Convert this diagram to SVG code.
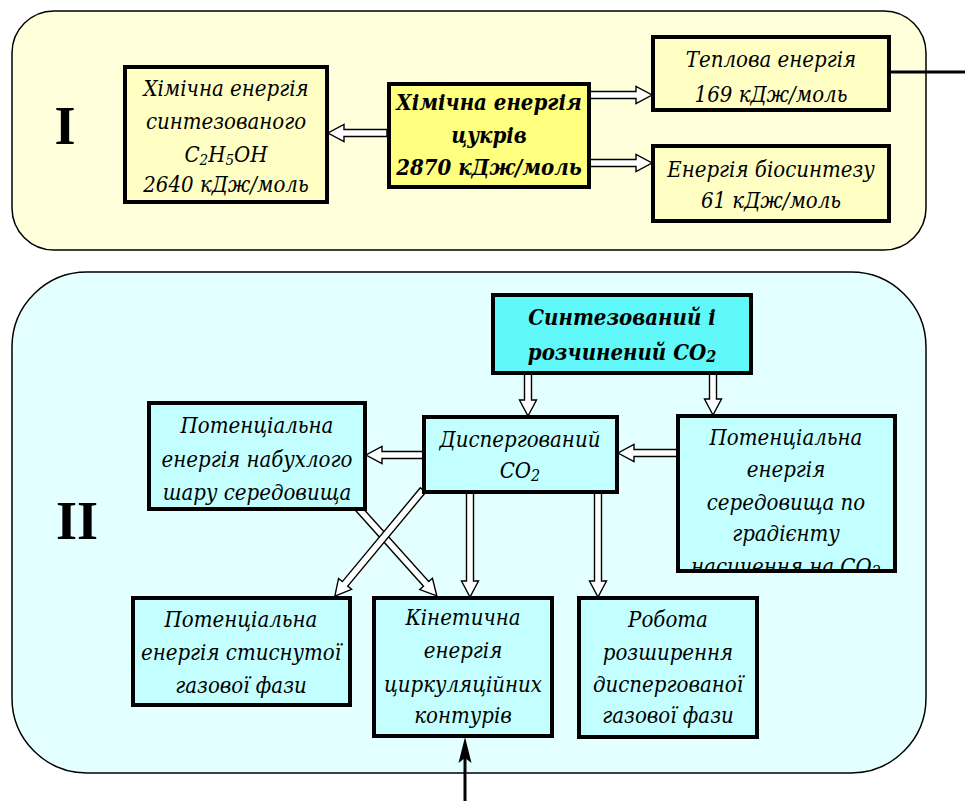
<svg xmlns="http://www.w3.org/2000/svg" width="965" height="801" viewBox="0 0 965 801">
<style>
.panel{stroke:#000;stroke-width:1.5}
.box{stroke:#000;stroke-width:4}
.y1{fill:#FFFFC4}
.y2{fill:#FFFF80}
.c1{fill:#C4FFFF}
.c2{fill:#60F8F8}
text{font-family:"DejaVu Serif",serif;font-stretch:condensed;font-style:italic;font-size:22px;text-anchor:middle;fill:#000}
.b{font-weight:bold}
.roman{font-family:"Liberation Serif",serif;font-style:normal;font-stretch:normal;font-weight:bold;font-size:54px}
.ba{fill:#fff;stroke:#000;stroke-width:1.4;stroke-linejoin:miter}
</style>
<defs>
<clipPath id="clipR"><rect x="679" y="417" width="215" height="152"/></clipPath>
</defs>
<g id="panel-I">
<rect class="panel" x="12" y="11" width="914" height="239" rx="42" ry="42" fill="#FFFFDC"/>
<text class="roman" x="65" y="144">I</text>
</g>
<g id="panel-II">
<rect class="panel" x="12" y="272" width="914" height="501" rx="75" ry="75" fill="#E4FFFF"/>
<text class="roman" x="77" y="539">II</text>
</g>
<g id="connectors">
<polygon class="ba" transform="translate(387,133) rotate(180)" points="0,-3.5 43,-3.5 43,-8.5 59,0 43,8.5 43,3.5 0,3.5"/>
<polygon class="ba" transform="translate(590,95)" points="0,-3.5 46,-3.5 46,-8.5 62,0 46,8.5 46,3.5 0,3.5"/>
<polygon class="ba" transform="translate(590,163)" points="0,-3.5 46,-3.5 46,-8.5 62,0 46,8.5 46,3.5 0,3.5"/>
<line x1="890" y1="72" x2="965" y2="72" stroke="#000" stroke-width="3"/>
<polygon class="ba" transform="translate(528,374) rotate(90)" points="0,-3.5 26,-3.5 26,-8.5 42,0 26,8.5 26,3.5 0,3.5"/>
<polygon class="ba" transform="translate(713,374) rotate(90)" points="0,-3.5 25,-3.5 25,-8.5 41,0 25,8.5 25,3.5 0,3.5"/>
<polygon class="ba" transform="translate(677,453) rotate(180)" points="0,-3.5 43,-3.5 43,-8.5 59,0 43,8.5 43,3.5 0,3.5"/>
<polygon class="ba" transform="translate(423,455) rotate(180)" points="0,-3.5 41,-3.5 41,-8.5 57,0 41,8.5 41,3.5 0,3.5"/>
<polygon class="ba" transform="translate(470,493) rotate(90)" points="0,-3.5 88,-3.5 88,-8.5 104,0 88,8.5 88,3.5 0,3.5"/>
<polygon class="ba" transform="translate(598,493) rotate(90)" points="0,-3.5 88,-3.5 88,-8.5 104,0 88,8.5 88,3.5 0,3.5"/>
<polygon class="ba" transform="translate(358,508) rotate(48.1)" points="0,-3.5 102,-3.5 102,-8.5 118,0 102,8.5 102,3.5 0,3.5"/>
<polygon class="ba" transform="translate(423,490) rotate(129.7)" points="0,-3.5 122,-3.5 122,-8.5 138,0 122,8.5 122,3.5 0,3.5"/>
<line x1="465" y1="801" x2="465" y2="755" stroke="#000" stroke-width="3"/>
<polygon points="465,737 458.5,763 465,758 471.5,763" fill="#000"/>
</g>
<g id="ethanol">
<rect class="box y1" x="125" y="67" width="202" height="135"/>
<text x="226" y="96">Хімічна енергія</text>
<text x="226" y="129">синтезованого</text>
<text x="226" y="162">C<tspan font-size="15" dy="3">2</tspan><tspan dy="-3">H</tspan><tspan font-size="15" dy="3">5</tspan><tspan dy="-3">OH</tspan></text>
<text x="226" y="192">2640 кДж/моль</text>
</g>
<g id="sugar">
<rect class="box y2" x="389" y="84" width="200" height="103"/>
<text class="b" x="489" y="110">Хімічна енергія</text>
<text class="b" x="489" y="143">цукрів</text>
<text class="b" x="489" y="175">2870 кДж/моль</text>
</g>
<g id="heat">
<rect class="box y1" x="653" y="37" width="236" height="73"/>
<text x="771" y="67">Теплова енергія</text>
<text x="771" y="102">169 кДж/моль</text>
</g>
<g id="biosynthesis">
<rect class="box y1" x="653" y="146" width="236" height="75"/>
<text x="771" y="177">Енергія біосинтезу</text>
<text x="771" y="208">61 кДж/моль</text>
</g>
<g id="co2-source">
<rect class="box c2" x="493" y="295" width="258" height="78"/>
<text class="b" x="622" y="325">Синтезований і</text>
<text class="b" x="622" y="360">розчинений CO<tspan font-size="16" dy="2">2</tspan></text>
</g>
<g id="dispersed">
<rect class="box c1" x="424" y="417" width="193" height="75"/>
<text x="520" y="447">Диспергований</text>
<text x="520" y="478">CO<tspan font-size="16" dy="3">2</tspan></text>
</g>
<g id="gradient">
<rect class="box c1" x="678" y="416" width="217" height="155"/>
<g clip-path="url(#clipR)">
<text x="786" y="445">Потенціальна</text>
<text x="786" y="477">енергія</text>
<text x="786" y="510">середовища по</text>
<text x="786" y="541">градієнту</text>
<text x="786" y="574">насичення на CO<tspan font-size="16" dy="3">2</tspan></text>
</g>
</g>
<g id="swollen">
<rect class="box c1" x="149" y="403" width="216" height="106"/>
<text x="257" y="433">Потенціальна</text>
<text x="257" y="467">енергія набухлого</text>
<text x="257" y="500">шару середовища</text>
</g>
<g id="compressed">
<rect class="box c1" x="133" y="598" width="217" height="107"/>
<text x="241" y="627">Потенціальна</text>
<text x="241" y="660">енергія стиснутої</text>
<text x="241" y="693">газової фази</text>
</g>
<g id="kinetic">
<rect class="box c1" x="374" y="598" width="178" height="138"/>
<text x="463" y="625">Кінетична</text>
<text x="463" y="658">енергія</text>
<text x="463" y="692">циркуляційних</text>
<text x="463" y="723">контурів</text>
</g>
<g id="expansion">
<rect class="box c1" x="579" y="598" width="178" height="139"/>
<text x="668" y="627">Робота</text>
<text x="668" y="660">розширення</text>
<text x="668" y="692">диспергованої</text>
<text x="668" y="723">газової фази</text>
</g>
</svg>
